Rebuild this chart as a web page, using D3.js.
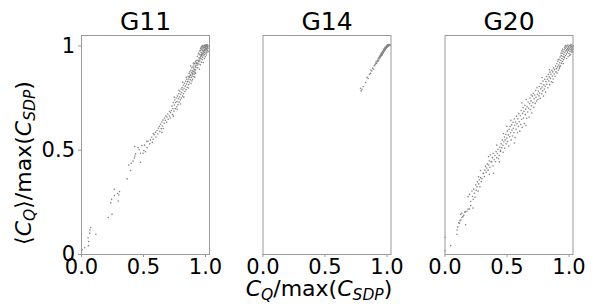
<!DOCTYPE html>
<html>
<head>
<meta charset="utf-8">
<script src="https://cdn.jsdelivr.net/npm/d3@7"></script>
<style>
  html, body { margin: 0; padding: 0; background: #fff; }
  svg text { font-family: "DejaVu Sans", sans-serif; fill: #000; }
</style>
</head>
<body>
<div id="chart"></div>
<script>
// ----------------------------------
// DATA
// ----------------------------------

const panelTitles = ['G11', 'G14', 'G20'];
const xTicks = [0, 0.5, 1.0];
const yTicks = [0, 0.5, 1];
const yTickLabels = ['0', '0.5', '1'];

// [C_Q/max(C_SDP), <C_Q>/max(C_SDP)]
const g11Points = [
  [0.01,0.02],[0.03,0.03],[0.06,0.04],[0.062,0.06],[0.057,0.078],[0.07,0.10],[0.072,0.115],[0.077,0.127],
  [0.12,0.095],[0.22,0.175],[0.25,0.19],[0.24,0.245],[0.247,0.262],[0.27,0.28],[0.268,0.31],[0.30,0.254],
  [0.305,0.283],[0.31,0.30],[0.294,0.29],[0.372,0.36],[0.385,0.427],[0.40,0.40],[0.405,0.435],[0.42,0.446],
  [0.43,0.46],[0.434,0.47],[0.434,0.515],[0.46,0.51],[0.48,0.483],[0.48,0.44],[0.507,0.496],[0.50,0.483],
  [0.52,0.49],[0.54,0.54],[0.56,0.547],[0.53,0.54],[0.555,0.528],[0.575,0.535],[0.47,0.50],[0.49,0.52],
  [0.512,0.522],[0.533,0.51],[0.44,0.48],
  [0.57,0.56],[0.582,0.55],[0.59,0.572],[0.601,0.583],[0.604,0.561],[0.613,0.592],[0.62,0.575],[0.624,0.603],
  [0.632,0.612],[0.635,0.588],[0.641,0.622],[0.647,0.601],[0.652,0.633],[0.657,0.614],[0.661,0.642],[0.664,0.602],
  [0.671,0.627],[0.673,0.652],[0.68,0.641],[0.684,0.662],[0.691,0.632],[0.693,0.657],[0.70,0.671],[0.703,0.646],
  [0.712,0.662],[0.714,0.683],[0.72,0.652],[0.723,0.677],[0.583,0.577],[0.652,0.583],
  [0.728,0.688],[0.733,0.709],[0.737,0.668],[0.741,0.697],[0.744,0.726],[0.749,0.684],[0.752,0.714],[0.756,0.738],
  [0.761,0.697],[0.763,0.726],[0.767,0.748],[0.771,0.706],[0.774,0.731],[0.777,0.757],[0.781,0.716],[0.784,0.744],
  [0.788,0.768],[0.791,0.728],[0.794,0.753],[0.797,0.779],[0.801,0.739],[0.804,0.766],[0.807,0.791],[0.809,0.748],
  [0.813,0.774],[0.815,0.798],[0.818,0.757],[0.822,0.786],[0.824,0.809],[0.827,0.768],[0.831,0.795],[0.834,0.819],
  [0.837,0.779],[0.841,0.806],[0.843,0.828],[0.847,0.788],[0.851,0.815],[0.853,0.838],[0.856,0.799],[0.858,0.826],
  [0.745,0.661],[0.776,0.694],[0.803,0.719],[0.829,0.752],[0.752,0.752],[0.789,0.785],[0.82,0.823],[0.848,0.847],
  [0.861,0.828],[0.863,0.851],[0.867,0.812],[0.869,0.839],[0.872,0.866],[0.874,0.823],[0.876,0.848],[0.878,0.874],
  [0.881,0.835],[0.883,0.858],[0.885,0.881],[0.887,0.817],[0.889,0.846],[0.891,0.869],[0.893,0.893],[0.895,0.853],
  [0.897,0.878],[0.899,0.838],[0.901,0.866],[0.903,0.897],[0.905,0.874],[0.907,0.851],[0.909,0.888],[0.911,0.906],
  [0.913,0.862],[0.915,0.884],[0.917,0.913],[0.919,0.871],[0.921,0.897],[0.923,0.921],[0.925,0.882],[0.927,0.905],
  [0.929,0.928],[0.866,0.796],[0.879,0.857],[0.894,0.829],[0.906,0.915],[0.918,0.848],[0.928,0.894],[0.884,0.902],
  [0.871,0.848],[0.898,0.862],[0.912,0.877],[0.924,0.866],[0.931,0.914],
  [0.934,0.917],[0.938,0.948],[0.941,0.893],[0.943,0.929],[0.947,0.962],[0.949,0.911],[0.952,0.941],[0.955,0.886],
  [0.956,0.973],[0.958,0.925],[0.961,0.954],[0.962,0.907],[0.964,0.987],[0.967,0.938],[0.968,0.966],[0.971,0.919],
  [0.972,0.995],[0.974,0.951],[0.976,0.979],[0.977,0.931],[0.979,0.962],[0.981,0.999],[0.982,0.944],[0.984,0.985],
  [0.986,0.918],[0.987,0.969],[0.988,0.992],[0.99,0.953],[0.991,0.978],[0.993,1.001],[0.994,0.937],[0.995,0.966],
  [0.997,0.989],[0.998,0.958],[1.0,0.996],[1.001,0.974],[1.002,0.946],[1.004,0.987],[1.005,1.002],[1.007,0.963],
  [1.008,0.981],[1.009,0.995],[1.011,0.954],[1.012,0.973],[1.013,0.999],[1.015,0.986],[1.016,0.966],[1.018,0.993],
  [1.019,1.002],[1.021,0.977],[1.022,0.989],[1.024,0.998],[1.025,0.971],[0.992,0.991],[0.983,0.996],[0.975,0.99],
  [0.969,0.983],[0.996,0.999],[1.003,0.996],[1.01,1.003],[1.017,1.0],[1.006,0.992],[0.999,0.982],[0.989,0.972],
  [0.978,0.958],[0.966,0.947],[0.957,0.935],[0.946,0.927],[0.937,0.905],[0.953,0.957],[0.963,0.975],[0.985,0.961],
  [1.014,0.982],[1.02,0.996],[0.98,0.975],[0.97,0.957],[0.96,0.94],[0.95,0.922],[0.94,0.912],[0.997,0.976],
  [1.023,0.985]
];

const g14Points = [
  [0.79,0.795],[0.795,0.782],[0.802,0.79],[0.812,0.803],[0.831,0.822],[0.843,0.847],[0.851,0.841],[0.862,0.862],
  [0.871,0.866],[0.874,0.882],[0.882,0.877],[0.889,0.891],[0.896,0.886],[0.901,0.902],[0.906,0.906],
  [0.91,0.911],[0.915,0.921],[0.92,0.916],[0.925,0.926],[0.93,0.931],[0.934,0.937],[0.936,0.926],[0.94,0.941],
  [0.944,0.936],[0.946,0.946],[0.95,0.944],[0.951,0.955],[0.955,0.951],[0.959,0.955],[0.961,0.961],[0.964,0.966],
  [0.966,0.956],[0.97,0.961],[0.971,0.971],[0.975,0.966],[0.976,0.976],[0.98,0.971],[0.981,0.981],[0.985,0.976],
  [0.986,0.986],[0.99,0.981],[0.991,0.99],[0.995,0.985],[0.996,0.992],[1.0,0.99],[1.001,0.996],[1.005,0.991],
  [1.006,1.0],[1.01,0.995],[1.011,1.001],[1.015,0.996],[1.02,1.0],[1.025,1.002],[1.03,1.003],[0.953,0.948],
  [0.962,0.952],[0.973,0.968],[0.983,0.979],[0.993,0.987],[1.003,0.993],[1.013,0.999],[1.018,1.004],[0.957,0.962],
  [0.968,0.971],[0.978,0.982],[0.988,0.991],[0.998,0.997],[1.008,1.003],[0.942,0.944],[0.948,0.951],[0.927,0.922],
  [0.917,0.913],[0.977,0.972],[0.987,0.983],[0.997,0.989],[1.022,1.003],[1.027,1.0]
];

const g20Points = [
  [0.005,0.016],[0.005,0.08],[0.05,0.04],[0.10,0.095],[0.101,0.115],[0.106,0.13],[0.114,0.15],[0.125,0.16],
  [0.14,0.175],[0.13,0.19],[0.155,0.185],[0.17,0.14],[0.165,0.20],[0.18,0.205],[0.19,0.215],[0.23,0.22],
  [0.121,0.147],[0.132,0.163],[0.148,0.179],[0.14,0.195],[0.167,0.203],
  [0.19,0.275],[0.202,0.286],[0.211,0.252],[0.221,0.302],[0.226,0.276],[0.236,0.311],[0.241,0.291],[0.251,0.332],
  [0.256,0.306],[0.261,0.322],[0.266,0.346],[0.271,0.301],[0.276,0.336],[0.281,0.356],[0.286,0.322],[0.291,0.366],
  [0.296,0.347],[0.301,0.361],[0.212,0.232],[0.232,0.262],[0.202,0.216],[0.246,0.272],[0.275,0.37],[0.29,0.40],
  [0.315,0.387],[0.33,0.42],
  [0.311,0.386],[0.322,0.371],[0.326,0.402],[0.336,0.392],[0.341,0.412],[0.346,0.432],[0.351,0.402],[0.356,0.427],
  [0.361,0.446],[0.366,0.416],[0.37,0.475],[0.376,0.441],[0.381,0.443],[0.386,0.462],[0.391,0.422],[0.395,0.387],
  [0.401,0.452],[0.406,0.472],[0.411,0.442],[0.416,0.491],[0.421,0.462],[0.426,0.482],[0.431,0.502],[0.436,0.457],
  [0.441,0.472],[0.446,0.512],[0.451,0.492],[0.362,0.382],[0.392,0.482],[0.422,0.522],[0.442,0.442],[0.355,0.467],
  [0.452,0.497],[0.457,0.528],[0.463,0.509],[0.466,0.546],[0.471,0.521],[0.474,0.488],[0.478,0.538],[0.483,0.561],
  [0.486,0.507],[0.489,0.547],[0.494,0.573],[0.497,0.528],[0.503,0.556],[0.507,0.589],[0.509,0.539],[0.514,0.571],
  [0.518,0.518],[0.521,0.598],[0.526,0.562],[0.529,0.611],[0.533,0.581],[0.537,0.547],[0.541,0.619],[0.544,0.594],
  [0.548,0.566],[0.552,0.632],[0.555,0.603],[0.559,0.581],[0.563,0.647],[0.566,0.617],[0.569,0.558],[0.573,0.633],
  [0.577,0.598],[0.581,0.661],[0.584,0.624],[0.588,0.581],[0.592,0.648],[0.596,0.612],[0.599,0.673],[0.503,0.612],
  [0.534,0.641],[0.476,0.578],[0.562,0.532],
  [0.603,0.634],[0.607,0.589],[0.611,0.663],[0.614,0.621],[0.618,0.688],[0.622,0.646],[0.626,0.607],[0.629,0.674],
  [0.633,0.702],[0.637,0.652],[0.641,0.684],[0.644,0.626],[0.648,0.713],[0.652,0.668],[0.655,0.694],[0.659,0.741],
  [0.663,0.651],[0.667,0.706],[0.671,0.681],[0.674,0.729],[0.678,0.699],[0.682,0.657],[0.686,0.721],[0.689,0.748],
  [0.693,0.693],[0.697,0.734],[0.701,0.711],[0.704,0.676],[0.708,0.757],[0.712,0.726],[0.716,0.771],[0.719,0.703],
  [0.723,0.744],[0.727,0.762],[0.731,0.722],[0.735,0.784],[0.738,0.751],[0.742,0.733],[0.746,0.797],[0.749,0.766],
  [0.624,0.724],[0.657,0.616],[0.699,0.762],
  [0.753,0.741],[0.757,0.781],[0.761,0.758],[0.765,0.803],[0.768,0.772],[0.772,0.746],[0.776,0.792],[0.779,0.817],
  [0.783,0.768],[0.787,0.801],[0.791,0.782],[0.794,0.829],[0.798,0.757],[0.801,0.812],[0.805,0.791],[0.808,0.838],
  [0.812,0.804],[0.815,0.776],[0.819,0.826],[0.823,0.851],[0.826,0.814],[0.83,0.838],[0.833,0.797],[0.837,0.861],
  [0.841,0.829],[0.844,0.849],[0.848,0.812],[0.851,0.872],[0.855,0.842],[0.858,0.862],[0.862,0.826],[0.866,0.881],
  [0.869,0.853],[0.873,0.873],[0.876,0.839],[0.88,0.892],[0.884,0.863],[0.887,0.884],[0.891,0.851],[0.895,0.901],
  [0.898,0.873],[0.787,0.846],[0.846,0.883],[0.873,0.822],
  [0.902,0.889],[0.905,0.912],[0.908,0.868],[0.912,0.897],[0.914,0.924],[0.917,0.881],[0.921,0.906],[0.923,0.933],
  [0.926,0.889],[0.929,0.917],[0.932,0.944],[0.934,0.902],[0.937,0.928],[0.941,0.951],[0.943,0.914],[0.946,0.937],
  [0.949,0.962],[0.951,0.923],[0.954,0.948],[0.957,0.971],[0.959,0.932],[0.962,0.958],[0.965,0.979],[0.967,0.941],
  [0.97,0.966],[0.973,0.986],[0.975,0.952],[0.978,0.974],[0.981,0.992],[0.983,0.959],[0.986,0.981],[0.988,0.998],
  [0.991,0.966],[0.993,0.985],[0.996,0.947],[0.998,0.976],[1.001,0.993],[1.003,0.961],[1.006,0.984],[1.008,1.0],
  [1.011,0.971],[1.013,0.989],[1.016,0.956],[1.018,0.979],[1.021,0.996],[1.023,0.968],[1.026,0.987],[1.028,1.002],
  [1.031,0.976],[1.033,0.993],[1.036,0.983],[1.038,0.998],[0.944,0.973],[0.969,0.992],[0.995,1.002],[1.019,1.004],
  [0.958,0.913],[0.984,0.937],[1.009,0.952],[0.929,0.897],[0.976,0.999],[1.002,0.979],[1.027,0.994],[0.952,0.981],
  [0.99,0.973],[1.014,0.998],[1.035,0.969],[0.963,0.945],[0.939,0.962],[0.917,0.931],[1.024,0.978],[0.997,0.992]
];

const panelData = [g11Points, g14Points, g20Points];

// ----------------------------------
// LAYOUT
// ----------------------------------

const width = 604,
      height = 304,
      panelLefts = [81, 262.5, 444.5],
      panelTop = 35,
      panelWidth = 129,
      panelHeight = 219,
      axisGrey = '#9a9a9a',
      dotGrey = '#858585';

const svg = d3.select('#chart')
  .append('svg')
  .attr('width', width)
  .attr('height', height);

const xScale = d3.scaleLinear()
  .domain([0, 1.04])
  .range([0, panelWidth]);

const yScale = d3.scaleLinear()
  .domain([0, 1.05])
  .range([panelHeight, 0]);

panelData.forEach((points, idx) => {
  const g = svg.append('g')
    .attr('transform', `translate(${panelLefts[idx]}, ${panelTop})`);

  // points
  g.append('g')
    .selectAll('circle')
    .data(points)
    .join('circle')
      .attr('cx', d => xScale(d[0]))
      .attr('cy', d => yScale(d[1]))
      .attr('r', 0.8)
      .attr('fill', dotGrey);

  // frame
  g.append('rect')
    .attr('x', 0.5)
    .attr('y', 0.5)
    .attr('width', panelWidth - 1)
    .attr('height', panelHeight)
    .attr('fill', 'none')
    .attr('stroke', axisGrey)
    .attr('stroke-width', 1);

  // x axis
  const xAxis = g.append('g')
    .attr('transform', `translate(0, ${panelHeight})`)
    .call(d3.axisBottom(xScale).tickValues(xTicks).tickFormat(d3.format('.1f')).tickSize(3).tickPadding(2));
  xAxis.select('.domain').remove();
  xAxis.selectAll('line').attr('stroke', axisGrey);
  xAxis.selectAll('text')
    .attr('font-size', 21)
    .attr('font-family', '"DejaVu Sans", sans-serif')
    .attr('fill', '#000');

  // y axis: labels only on the first panel
  const yAxis = g.append('g')
    .call(d3.axisLeft(yScale).tickValues(yTicks)
      .tickFormat((d, i) => idx === 0 ? yTickLabels[i] : '')
      .tickSize(idx === 0 ? 3 : 0).tickPadding(3));
  yAxis.select('.domain').remove();
  yAxis.selectAll('line').attr('stroke', axisGrey);
  yAxis.selectAll('text')
    .attr('font-size', 21)
    .attr('font-family', '"DejaVu Sans", sans-serif')
    .attr('fill', '#000');

  // title
  g.append('text')
    .attr('x', panelWidth / 2)
    .attr('y', -5)
    .attr('text-anchor', 'middle')
    .attr('font-size', 25)
    .text(panelTitles[idx]);
});

// ----------------------------------
// AXIS LABELS
// ----------------------------------

const xLabel = svg.append('text')
  .attr('x', 319)
  .attr('y', 296)
  .attr('text-anchor', 'middle')
  .attr('font-size', 22);
xLabel.append('tspan').attr('font-style', 'italic').text('C');
xLabel.append('tspan').attr('font-style', 'italic').attr('font-size', 15.5).attr('dy', 4).text('Q');
xLabel.append('tspan').attr('dy', -4).text('/max(');
xLabel.append('tspan').attr('font-style', 'italic').text('C');
xLabel.append('tspan').attr('font-style', 'italic').attr('font-size', 15.5).attr('dy', 4).text('SDP');
xLabel.append('tspan').attr('dy', -4).text(')');

const yLabel = svg.append('text')
  .attr('transform', 'translate(31, 163) rotate(-90)')
  .attr('text-anchor', 'middle')
  .attr('font-size', 22);
yLabel.append('tspan').text('\u27E8');
yLabel.append('tspan').attr('font-style', 'italic').text('C');
yLabel.append('tspan').attr('font-style', 'italic').attr('font-size', 15.5).attr('dy', 4).text('Q');
yLabel.append('tspan').attr('dy', -4).text('\u27E9/max(');
yLabel.append('tspan').attr('font-style', 'italic').text('C');
yLabel.append('tspan').attr('font-style', 'italic').attr('font-size', 15.5).attr('dy', 4).text('SDP');
yLabel.append('tspan').attr('dy', -4).text(')');
</script>
</body>
</html>
